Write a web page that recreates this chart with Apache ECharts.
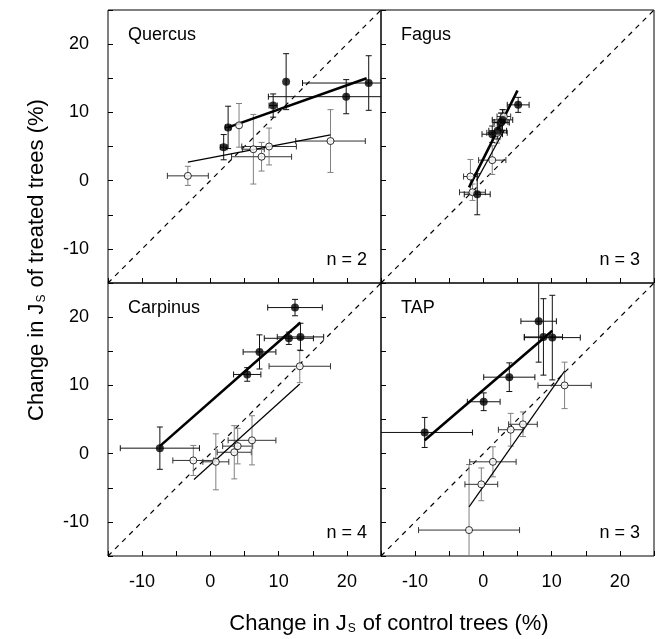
<!DOCTYPE html>
<html>
<head>
<meta charset="utf-8">
<script src="https://cdn.jsdelivr.net/npm/echarts@6/dist/echarts.min.js"></script>
<style>
  html, body { margin: 0; padding: 0; background: #fff; }
  #chart { width: 658px; height: 639px; }
</style>
</head>
<body>
<div id="chart"></div>
<script>
// data: [x, y, xErr, yErr]
const panelNames = ['Quercus', 'Fagus', 'Carpinus', 'TAP'];
const panelN = ['n = 2', 'n = 3', 'n = 4', 'n = 3'];
const axisTicks = [-10, 0, 10, 20];
const diagonal = [[-15, -15], [25, 25]];

const quercusFilled = [
  [1.95, 4.9, 0.5, 1.85], [2.6, 7.8, 0.4, 3.1], [9.2, 11.0, 0.6, 1.7],
  [11.1, 14.5, 0, 4.1], [19.9, 12.3, 11.4, 2.5], [23.2, 14.3, 9.7, 4.0]
];
const quercusOpen = [
  [-3.3, 0.7, 3.0, 1.4], [4.2, 8.1, 0, 3.2], [6.3, 4.6, 1.6, 5.1],
  [7.5, 3.5, 4.4, 2.1], [8.6, 5.0, 4.0, 2.7], [17.6, 5.8, 5.1, 4.6]
];
const quercusFilledFit = [[2.6, 7.8], [22.9, 15.0]];
const quercusOpenFit = [[-3.3, 2.7], [17.6, 6.7]];

const fagusFilled = [
  [5.1, 11.1, 1.6, 1.1], [2.8, 8.9, 1.5, 1.5], [2.6, 8.5, 1.2, 1.4],
  [2.1, 7.3, 1.3, 1.2], [1.3, 6.8, 1.5, 1.2], [-0.9, -2.0, 1.9, 3.0]
];
const fagusOpen = [
  [1.3, 3.0, 2.0, 2.1], [-1.9, 0.6, 1.0, 2.5], [-1.6, -1.7, 1.9, 1.2],
  [2.0, 7.0, 1.5, 1.5], [2.6, 8.6, 1.0, 1.3], [3.0, 9.4, 1.0, 1.0]
];
const fagusFilledFit = [[-2.1, -1.0], [5.0, 13.2]];
const fagusOpenFit = [[-1.0, 0.0], [3.0, 7.3]];

const carpinusFilled = [
  [-7.4, 0.8, 5.8, 3.1], [5.4, 11.6, 2.0, 1.0], [7.2, 14.9, 2.4, 2.5],
  [11.5, 16.9, 3.6, 0.9], [13.2, 17.1, 3.4, 2.0], [12.4, 21.4, 4.0, 1.2]
];
const carpinusOpen = [
  [-2.5, -1.0, 3.0, 2.2], [0.8, -1.2, 1.9, 4.1], [3.5, 0.2, 2.5, 3.9],
  [4.0, 1.1, 2.2, 2.6], [6.1, 1.95, 3.5, 3.6], [13.1, 12.8, 4.5, 2.4]
];
const carpinusFilledFit = [[-7.4, 1.1], [13.2, 19.2]];
const carpinusOpenFit = [[-2.4, -3.8], [13.1, 10.2]];

const tapFilled = [
  [-8.6, 3.1, 7.0, 2.2], [0.05, 7.6, 2.4, 1.3], [3.8, 11.2, 3.75, 2.1],
  [8.1, 19.4, 2.6, 6.0], [8.8, 17.1, 2.8, 5.6], [10.1, 17.0, 4.1, 6.2]
];
const tapOpen = [
  [-2.1, -11.2, 7.4, 9.6], [-0.3, -4.5, 2.4, 2.4], [1.4, -1.2, 3.4, 2.2],
  [4.0, 3.5, 1.8, 2.4], [5.8, 4.3, 2.1, 1.8], [11.9, 10.0, 3.9, 3.4]
];
const tapFilledFit = [[-8.6, 1.95], [10.1, 18.0]];
const tapOpenFit = [[-2.1, -7.8], [11.9, 12.1]];

const panels = [
  { filled: quercusFilled, open: quercusOpen, filledFit: quercusFilledFit, openFit: quercusOpenFit },
  { filled: fagusFilled, open: fagusOpen, filledFit: fagusFilledFit, openFit: fagusOpenFit },
  { filled: carpinusFilled, open: carpinusOpen, filledFit: carpinusFilledFit, openFit: carpinusOpenFit },
  { filled: tapFilled, open: tapOpen, filledFit: tapFilledFit, openFit: tapOpenFit }
];

const FONT = 'Liberation Sans, Arial, Helvetica, sans-serif';
const PW = 273, PH = 273, L0 = 108, T0 = 10;
const gridPos = [[L0, T0], [L0 + PW, T0], [L0, T0 + PH], [L0 + PW, T0 + PH]];

function errorBars(hColor, vColor) {
  return function (params, api) {
    const x = api.value(0), y = api.value(1), ex = api.value(2), ey = api.value(3);
    const cap = 3;
    const children = [];
    if (ex > 0) {
      const l = api.coord([x - ex, y]), r = api.coord([x + ex, y]);
      children.push(
        { type: 'line', shape: { x1: l[0], y1: l[1], x2: r[0], y2: r[1] }, style: { stroke: hColor, lineWidth: 1 } },
        { type: 'line', shape: { x1: l[0], y1: l[1] - cap, x2: l[0], y2: l[1] + cap }, style: { stroke: hColor, lineWidth: 1 } },
        { type: 'line', shape: { x1: r[0], y1: r[1] - cap, x2: r[0], y2: r[1] + cap }, style: { stroke: hColor, lineWidth: 1 } }
      );
    }
    if (ey > 0) {
      const t = api.coord([x, y + ey]), b = api.coord([x, y - ey]);
      children.push(
        { type: 'line', shape: { x1: t[0], y1: t[1], x2: b[0], y2: b[1] }, style: { stroke: vColor, lineWidth: 1 } },
        { type: 'line', shape: { x1: t[0] - cap, y1: t[1], x2: t[0] + cap, y2: t[1] }, style: { stroke: vColor, lineWidth: 1 } },
        { type: 'line', shape: { x1: b[0] - cap, y1: b[1], x2: b[0] + cap, y2: b[1] }, style: { stroke: vColor, lineWidth: 1 } }
      );
    }
    return { type: 'group', children: children };
  };
}

const grids = [], xAxes = [], yAxes = [], series = [];
const labelFmt = v => (axisTicks.indexOf(v) >= 0) ? String(v) : '';

panels.forEach((p, i) => {
  grids.push({
    left: gridPos[i][0], top: gridPos[i][1], width: PW, height: PH,
    show: true, borderColor: '#000', borderWidth: 1
  });
  xAxes.push({
    type: 'value', gridIndex: i, position: 'bottom', min: -15, max: 25, interval: 5,
    axisLine: { show: false, onZero: false },
    axisTick: { show: true, inside: true, length: 5, lineStyle: { color: '#000' } },
    axisLabel: { show: i >= 2, formatter: labelFmt, color: '#000', fontSize: 18, fontFamily: FONT, margin: 17 },
    splitLine: { show: false }
  });
  yAxes.push({
    type: 'value', gridIndex: i, position: 'left', min: -15, max: 25, interval: 5,
    axisLine: { show: false, onZero: false },
    axisTick: { show: true, inside: true, length: 5, lineStyle: { color: '#000' } },
    axisLabel: { show: i % 2 === 0, formatter: labelFmt, color: '#000', fontSize: 18, fontFamily: FONT, margin: 19 },
    splitLine: { show: false }
  });

  series.push({
    type: 'line', xAxisIndex: i, yAxisIndex: i, data: diagonal, symbol: 'none', silent: true,
    lineStyle: { color: '#000', width: 1.2, type: [5, 5] }, z: 1
  });
  series.push({
    type: 'custom', xAxisIndex: i, yAxisIndex: i, data: p.open, clip: true, z: 2,
    renderItem: errorBars('#333', '#808080')
  });
  series.push({
    type: 'custom', xAxisIndex: i, yAxisIndex: i, data: p.filled, clip: true, z: 2,
    renderItem: errorBars('#111', '#111')
  });
  series.push({
    type: 'line', xAxisIndex: i, yAxisIndex: i, data: p.openFit, symbol: 'none', silent: true,
    lineStyle: { color: '#000', width: 1.2 }, z: 3
  });
  series.push({
    type: 'line', xAxisIndex: i, yAxisIndex: i, data: p.filledFit, symbol: 'none', silent: true,
    lineStyle: { color: '#000', width: 2.6 }, z: 3
  });
  series.push({
    type: 'scatter', xAxisIndex: i, yAxisIndex: i, data: p.open.map(d => [d[0], d[1]]),
    symbol: 'circle', symbolSize: 7,
    itemStyle: { color: '#fff', borderColor: '#000', borderWidth: 1 }, z: 4
  });
  series.push({
    type: 'scatter', xAxisIndex: i, yAxisIndex: i, data: p.filled.map(d => [d[0], d[1]]),
    symbol: 'circle', symbolSize: 8,
    itemStyle: { color: '#000' }, z: 5
  });
});

const graphics = [];
panels.forEach((p, i) => {
  graphics.push({
    type: 'text', left: gridPos[i][0] + 20, top: gridPos[i][1] + 16,
    style: { text: panelNames[i], font: '18px ' + FONT, fill: '#000' }
  });
  graphics.push({
    type: 'text', x: gridPos[i][0] + PW - 14, y: gridPos[i][1] + PH - 23,
    style: { text: panelN[i], font: '18px ' + FONT, fill: '#000', align: 'right', verticalAlign: 'middle' }
  });
});
const titleRich = {
  a: { fontSize: 22, fontFamily: FONT, fill: '#000' },
  s: { fontSize: 12, fontFamily: FONT, fill: '#000', padding: [10, 1, 0, 1] }
};
graphics.push({
  type: 'text', x: 389, y: 624,
  style: { text: '{a|Change in J}{s|S}{a| of control trees (%)}', rich: titleRich, align: 'center', verticalAlign: 'middle' }
});
graphics.push({
  type: 'text', x: 37, y: 260, rotation: Math.PI / 2,
  style: { text: '{a|Change in J}{s|S}{a| of treated trees (%)}', rich: titleRich, align: 'center', verticalAlign: 'middle' }
});

const chart = echarts.init(document.getElementById('chart'), null, { renderer: 'canvas' });
chart.setOption({
  animation: false,
  backgroundColor: '#fff',
  grid: grids,
  xAxis: xAxes,
  yAxis: yAxes,
  series: series,
  graphic: graphics
});
</script>
</body>
</html>
